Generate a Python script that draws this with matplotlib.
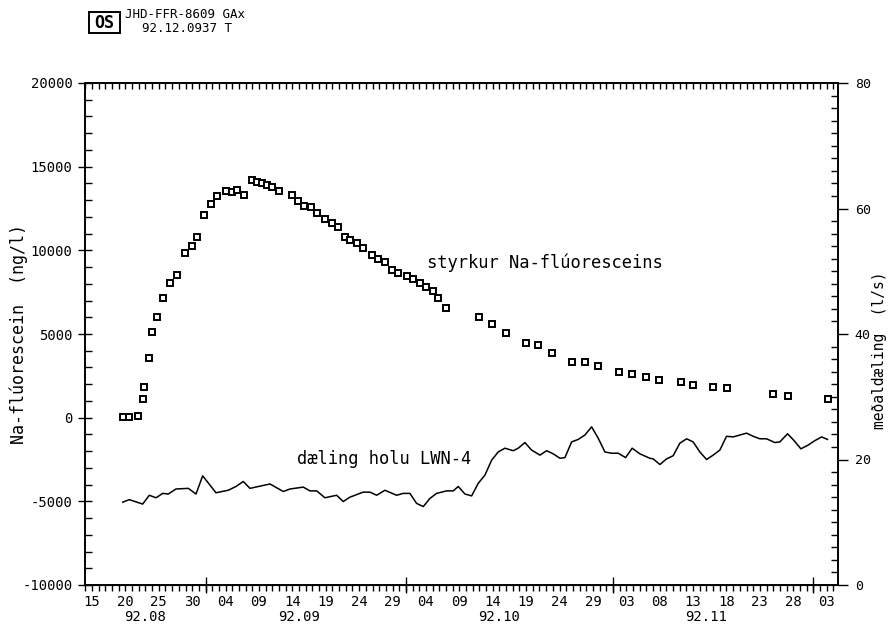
import datetime as dt
import matplotlib
matplotlib.use("Agg")
import matplotlib.pyplot as plt
import matplotlib.dates as mdates
from matplotlib.ticker import FixedLocator, MultipleLocator
from matplotlib.patches import Rectangle

plt.rcParams['font.family'] = ['DejaVu Sans Mono', 'DejaVu Sans']
plt.rcParams['axes.unicode_minus'] = False

# ---------------- data ----------------
base_date = dt.datetime(1992, 8, 15)

# Na-fluorescein concentration (ng/l); time in days since 1992-08-15
conc_days = [4.64, 5.54, 6.90, 7.63, 7.78, 8.53, 8.98, 9.73, 10.63, 11.68,
             12.72, 13.92, 14.97, 15.72, 16.77, 17.81, 18.71, 20.06, 20.96, 21.71,
             22.75, 23.95, 24.70, 25.45, 26.20, 26.95, 28.00, 29.94, 30.84, 31.74,
             32.78, 33.68, 34.88, 35.93, 36.83, 37.87, 38.62, 39.67, 40.57, 41.92,
             42.81, 43.86, 44.91, 45.81, 47.16, 48.05, 49.10, 50.00, 51.05, 51.80,
             53.00, 57.93, 59.88, 61.98, 64.97, 66.77, 68.86, 71.86, 73.80, 75.75,
             78.89, 80.84, 82.93, 84.88, 88.17, 89.97, 92.96, 95.06, 101.95, 104.19,
             110.18]
conc_vals = [40, 40, 100, 1120, 1830, 3570, 5120, 6020, 7150, 8050,
             8530, 9840, 10260, 10800, 12110, 12770, 13250, 13550, 13490, 13610,
             13310, 14200, 14080, 14020, 13900, 13790, 13550, 13310, 12950, 12650,
             12600, 12230, 11870, 11630, 11390, 10800, 10620, 10440, 10140, 9720,
             9480, 9300, 8820, 8650, 8470, 8290, 8050, 7810, 7570, 7150,
             6550, 6020, 5600, 5060, 4460, 4340, 3860, 3330, 3330, 3090,
             2730, 2610, 2430, 2250, 2130, 1950, 1830, 1770, 1410, 1300,
             1120]

# pumping rate of well LWN-4 (l/s); time in days since 1992-08-15
pump_days = [4.60, 5.58, 7.59, 8.58, 9.58, 10.58, 11.42, 12.57, 14.42, 15.57,
             16.57, 18.56, 20.40, 21.56, 22.65, 23.65, 26.65, 28.64, 29.64, 31.63,
             32.63, 33.64, 34.88, 36.63, 37.62, 38.62, 40.61, 41.62, 42.62, 43.86,
             45.61, 46.60, 47.60, 48.61, 49.60, 50.60, 51.60, 53.10, 54.09, 54.84,
             55.84, 56.84, 57.83, 58.83, 59.84, 60.82, 61.83, 63.07, 63.82, 64.82,
             65.82, 67.07, 68.07, 69.06, 70.06, 70.81, 71.81, 72.80, 73.80, 74.81,
             75.79, 76.80, 77.80, 78.79, 79.90, 80.88, 82.04, 83.53, 84.03, 85.03,
             86.03, 87.02, 88.02, 89.03, 90.01, 91.02, 92.02, 93.01, 94.01, 95.01,
             96.00, 98.01, 99.00, 100.00, 101.00, 102.25, 102.99, 104.15, 105.13, 106.14,
             107.23, 108.23, 109.24, 110.13]
pump_vals = [13.2, 13.6, 12.9, 14.3, 13.9, 14.6, 14.5, 15.3, 15.4, 14.5,
             17.4, 14.7, 15.1, 15.7, 16.5, 15.4, 16.1, 14.9, 15.3, 15.6,
             15.0, 15.0, 13.9, 14.3, 13.3, 14.0, 14.8, 14.8, 14.3, 15.1,
             14.3, 14.6, 14.6, 13.0, 12.5, 13.8, 14.6, 15.0, 15.0, 15.7,
             14.5, 14.2, 16.2, 17.5, 19.9, 21.2, 21.8, 21.4, 21.8, 22.7,
             21.5, 20.7, 21.4, 20.9, 20.2, 20.3, 22.8, 23.2, 23.9, 25.2,
             23.4, 21.2, 21.0, 21.0, 20.3, 21.8, 20.9, 20.2, 20.1, 19.2,
             20.1, 20.6, 22.6, 23.3, 22.8, 21.2, 20.0, 20.7, 21.5, 23.7,
             23.6, 24.2, 23.7, 23.3, 23.3, 22.7, 22.8, 24.1, 23.0, 21.7,
             22.3, 23.0, 23.6, 23.2]

tick_days = list(range(0, 111, 5))            # labelled every 5 days
month_starts = ['1992-09-01', '1992-10-01', '1992-11-01', '1992-12-01']
month_labels = ['92.08', '92.09', '92.10', '92.11']
month_label_dates = ['1992-08-23', '1992-09-15', '1992-10-15', '1992-11-15']

conc_label = 'styrkur Na-flúoresceins'
pump_label = 'dæling holu LWN-4'
left_ylabel = 'Na-flúorescein  (ng/l)'
right_ylabel = 'meðaldæling  (l/s)'
header1 = 'JHD-FFR-8609 GAx'
header2 = '92.12.0937 T'

# ---------------- plotting ----------------
def to_date(d):
    return base_date + dt.timedelta(days=d)

conc_t = [to_date(d) for d in conc_days]
pump_t = [to_date(d) for d in pump_days]

fig = plt.figure(figsize=(8.9, 6.28), dpi=100)
ax = fig.add_axes([85 / 890, 1 - 585 / 628, 753 / 890, 502 / 628])
ax2 = ax.twinx()

ax.plot(conc_t, conc_vals, linestyle='none', marker='s', ms=4.8,
        mfc='white', mec='black', mew=1.4, zorder=3)
ax2.plot(pump_t, pump_vals, color='black', lw=1.1)

ax.set_xlim(to_date(-1.05), to_date(111.7))
ax.set_ylim(-10000, 20000)
ax2.set_ylim(0, 80)

for a in (ax, ax2):
    for s in a.spines.values():
        s.set_linewidth(1.2)

# x axis
ax.xaxis.set_major_locator(FixedLocator(mdates.date2num([to_date(d) for d in tick_days])))
ax.xaxis.set_major_formatter(mdates.DateFormatter('%d'))
ax.xaxis.set_minor_locator(mdates.DayLocator())
ax.tick_params(axis='x', which='both', direction='out', length=4, width=1,
               pad=3, labelsize=10)

top = ax.secondary_xaxis('top')
top.xaxis.set_major_locator(mdates.DayLocator())
top.tick_params(axis='x', which='major', direction='in', length=4, width=1,
                labeltop=False)
top.spines['top'].set_linewidth(1.2)

msec = ax.secondary_xaxis('bottom')
msec.xaxis.set_major_locator(FixedLocator(mdates.date2num(
    [dt.datetime.fromisoformat(m) for m in month_starts])))
msec.tick_params(axis='x', which='major', direction='inout', length=12,
                 width=1, labelbottom=False)

for lab, dstr in zip(month_labels, month_label_dates):
    ax.text(dt.datetime.fromisoformat(dstr), -0.064, lab,
            transform=ax.get_xaxis_transform(), ha='center', va='center',
            fontsize=10)

# left y axis
ax.yaxis.set_major_locator(MultipleLocator(5000))
ax.yaxis.set_minor_locator(MultipleLocator(1000))
ax.tick_params(axis='y', which='major', direction='inout', length=10, width=1,
               pad=4, labelsize=10)
ax.tick_params(axis='y', which='minor', direction='in', length=5, width=1)
ax.set_ylabel(left_ylabel, fontsize=12)
ax.yaxis.set_label_coords(-0.076, 0.5)

# right y axis
ax2.yaxis.set_major_locator(MultipleLocator(20))
ax2.yaxis.set_minor_locator(MultipleLocator(2))
ax2.tick_params(axis='y', which='major', direction='out', length=7, width=1,
                pad=5, labelsize=9.5)
ax2.tick_params(axis='y', which='minor', direction='in', length=5, width=1)
ax2.set_ylabel(right_ylabel, fontsize=10.5)
ax2.yaxis.set_label_coords(1.0455, 0.468)

# annotations
ax.text(0.454, 0.641, conc_label, transform=ax.transAxes, ha='left',
        va='center', fontsize=12.3)
ax.text(0.2815, 0.251, pump_label, transform=ax.transAxes, ha='left',
        va='center', fontsize=12.3)

# header
fig.patches.append(Rectangle((89 / 890, 1 - 33 / 628), 31 / 890, 21 / 628,
                             transform=fig.transFigure, fill=False,
                             lw=1.4, ec='black'))
fig.text(104.5 / 890, 1 - 22.5 / 628, 'OS', ha='center', va='center',
         fontsize=12, fontweight='bold')
fig.text(125 / 890, 1 - 15 / 628, header1, ha='left', va='center', fontsize=9)
fig.text(142 / 890, 1 - 29 / 628, header2, ha='left', va='center', fontsize=9)

fig.savefig('out.png', dpi=100)
